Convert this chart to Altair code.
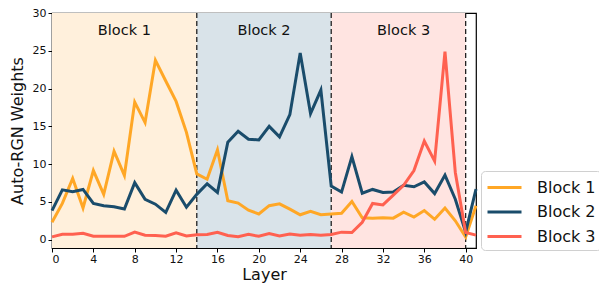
import altair as alt
import pandas as pd

layers = list(range(42))
block1 = [2.3, 4.8, 8.1, 4.2, 9.15, 6.0, 11.7, 8.5, 18.2, 15.5,
          23.75, 21.0, 18.3, 14.2, 8.7, 8.0, 11.9, 5.15, 4.85, 3.9,
          3.4, 4.5, 4.75, 4.05, 3.3, 3.75, 3.3, 3.4, 3.5, 5.05,
          2.9, 2.85, 2.9, 2.85, 3.65, 3.0, 3.85, 2.7, 4.2, 2.5,
          0.35, 4.5]
block2 = [3.85, 6.6, 6.35, 6.65, 4.8, 4.5, 4.35, 4.05, 7.55, 5.35,
          4.7, 3.6, 6.55, 4.3, 6.0, 7.4, 6.25, 12.9, 14.35, 13.3,
          13.2, 15.0, 13.6, 16.55, 24.7, 16.7, 19.8, 7.1, 6.3, 11.0,
          6.15, 6.65, 6.25, 6.3, 7.2, 7.0, 7.65, 6.1, 8.55, 5.35,
          1.0, 6.7]
block3 = [0.37, 0.72, 0.72, 0.85, 0.45, 0.45, 0.45, 0.45, 1.0, 0.6,
          0.55, 0.45, 0.9, 0.5, 0.65, 0.7, 0.98, 0.55, 0.4, 0.7,
          0.45, 0.8, 0.5, 0.75, 0.6, 0.7, 0.6, 0.7, 1.0, 0.95,
          2.3, 4.8, 4.6, 5.9, 7.2, 9.15, 13.05, 10.4, 24.9, 8.9,
          0.95, 0.6]

series_names = ["Block 1", "Block 2", "Block 3"]
line_colors = ["#FFA726", "#1A4C6B", "#FF6150"]
bg_colors = ["#FFF0DC", "#D9E3E9", "#FFE4E1"]
region_start = [0, 14, 27]
region_end = [14, 27, 40]
label_pos = [7, 20.5, 34]
boundaries = [14, 27, 40]
x_ticks = list(range(0, 41, 4))
y_ticks = list(range(0, 31, 5))
y_min, y_max = -1.1, 30
x_min, x_max = 0, 41

rows = []
for name, vals in zip(series_names, [block1, block2, block3]):
    for l, v in zip(layers, vals):
        rows.append({"Layer": l, "Weight": v, "Series": name})
df = pd.DataFrame(rows)

regions = pd.DataFrame({
    "start": region_start, "end": region_end, "name": series_names,
    "bg": bg_colors, "ylo": [y_min] * 3, "yhi": [y_max] * 3,
    "lx": label_pos, "ly": [27.6] * 3,
})
bounds = pd.DataFrame({"b": boundaries})

xscale = alt.Scale(domain=[x_min, x_max], nice=False, zero=False)
yscale = alt.Scale(domain=[y_min, y_max], nice=False, zero=False)
xaxis = alt.Axis(values=x_ticks, title="Layer")
yaxis = alt.Axis(values=y_ticks, title="Auto-RGN Weights")

rects = alt.Chart(regions).mark_rect().encode(
    x=alt.X("start:Q", scale=xscale, axis=xaxis),
    x2="end:Q",
    y=alt.Y("ylo:Q", scale=yscale, axis=yaxis),
    y2="yhi:Q",
    color=alt.Color("bg:N", scale=None),
)

rules = alt.Chart(bounds).mark_rule(
    color="#222222", strokeDash=[5, 3], strokeWidth=1.3
).encode(x=alt.X("b:Q", scale=xscale, axis=xaxis))

texts = alt.Chart(regions).mark_text(
    fontSize=14.5, font="DejaVu Sans", color="#111111", baseline="middle"
).encode(
    x=alt.X("lx:Q", scale=xscale, axis=xaxis),
    y=alt.Y("ly:Q", scale=yscale, axis=yaxis),
    text="name:N",
)

lines = alt.Chart(df).mark_line(strokeWidth=3, strokeJoin="miter").encode(
    x=alt.X("Layer:Q", scale=xscale, axis=xaxis),
    y=alt.Y("Weight:Q", scale=yscale, axis=yaxis),
    color=alt.Color("Series:N",
                    scale=alt.Scale(domain=series_names, range=line_colors),
                    legend=alt.Legend(
                        title=None, orient="none", legendX=429, legendY=158,
                        symbolType="M-1,0L2.4,0", symbolSize=400, symbolStrokeWidth=3,
                        labelFontSize=16, labelFont="DejaVu Sans", labelColor="#111111",
                        labelOffset=28, rowPadding=4.5, padding=5,
                        fillColor="white", strokeColor="#d0d0d0", cornerRadius=4,
                    )),
)

chart = alt.layer(rects, rules, texts, lines).properties(
    width=424, height=235,
    autosize=alt.AutoSizeParams(type="none"),
    padding={"left": 44, "top": 5, "right": 123, "bottom": 37},
).configure_view(
    stroke="black", strokeWidth=1.2
).configure_axis(
    grid=False, domainColor="black", domainWidth=1.2,
    tickColor="black", tickSize=4, tickWidth=1,
    labelFont="DejaVu Sans", labelFontSize=11, labelColor="#111111",
    titleFont="DejaVu Sans", titleFontWeight="normal", titleColor="#111111",
    titleFontSize=16, labelPadding=1,
).configure_axisX(
    titlePadding=2, labelAngle=0
).configure_axisY(
    titlePadding=7, labelPadding=2
)

chart.save("out.html", embed_options={"renderer": "svg", "actions": False})
